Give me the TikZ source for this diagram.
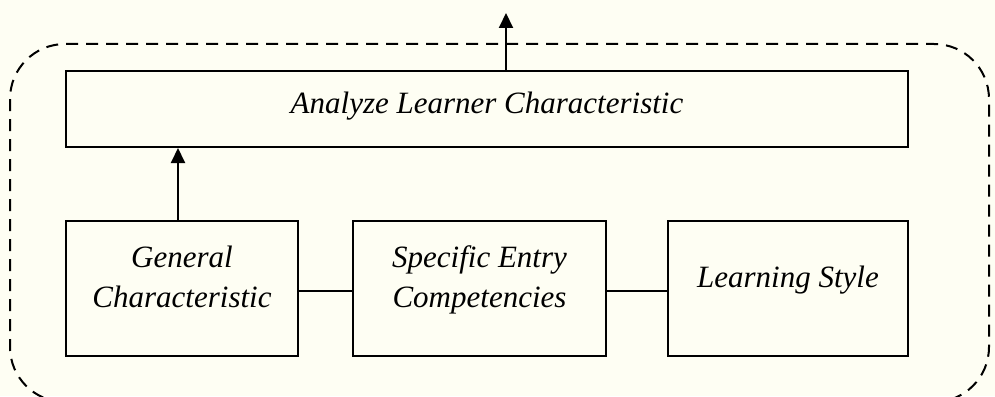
\documentclass[tikz,border=0pt]{standalone}
\usepackage{fontspec}
\setmainfont{Liberation Serif}
\usetikzlibrary{arrows.meta}
\definecolor{paper}{RGB}{254,254,243}

\begin{document}
\begin{tikzpicture}[x=1pt, y=-1pt]
\tikzstyle{boxStyle} = [draw, line width=2pt, inner sep=0pt, align=center, font=\itshape\fontsize{31}{40}\selectfont]
\tikzstyle{linkStyle} = [line width=2pt]
\tikzstyle{arrowStyle} = [line width=2pt, -{Triangle[length=15pt, width=14pt]}]
\tikzstyle{frameStyle} = [line width=2pt, dash pattern=on 12pt off 8pt, rounded corners=55pt]
\fill[paper] (0,0) rectangle (995,396);
\useasboundingbox (0,0) rectangle (995,396);
% boxes
\node[boxStyle, minimum width=842pt, minimum height=76pt, text depth=13pt] (ana) at (487,109) {Analyze Learner Characteristic};
\node[boxStyle, minimum width=232pt, minimum height=135pt, text depth=24pt] (gen) at (182,288.5) {General\\Characteristic};
\node[boxStyle, minimum width=253pt, minimum height=135pt, text depth=24pt] (spec) at (479.5,288.5) {Specific Entry\\Competencies};
\node[boxStyle, minimum width=240pt, minimum height=135pt, text depth=24pt] (style) at (788,288.5) {Learning Style};
\coordinate (out) at (506,13);
% connectors
\draw[linkStyle] (gen.east |- 0,291) -- (spec.west |- 0,291);
\draw[linkStyle] (spec.east |- 0,291) -- (style.west |- 0,291);
\draw[arrowStyle] ([xshift=-4pt]gen.north) -- ([xshift=-4pt]gen.north |- ana.south);
\draw[arrowStyle] (ana.north -| out) -- (out);
% outer frame
\begin{scope}
\clip (0,0) rectangle (995,396);
\draw[frameStyle] (10,44) rectangle (989,402);
\end{scope}
\end{tikzpicture}
\end{document}
